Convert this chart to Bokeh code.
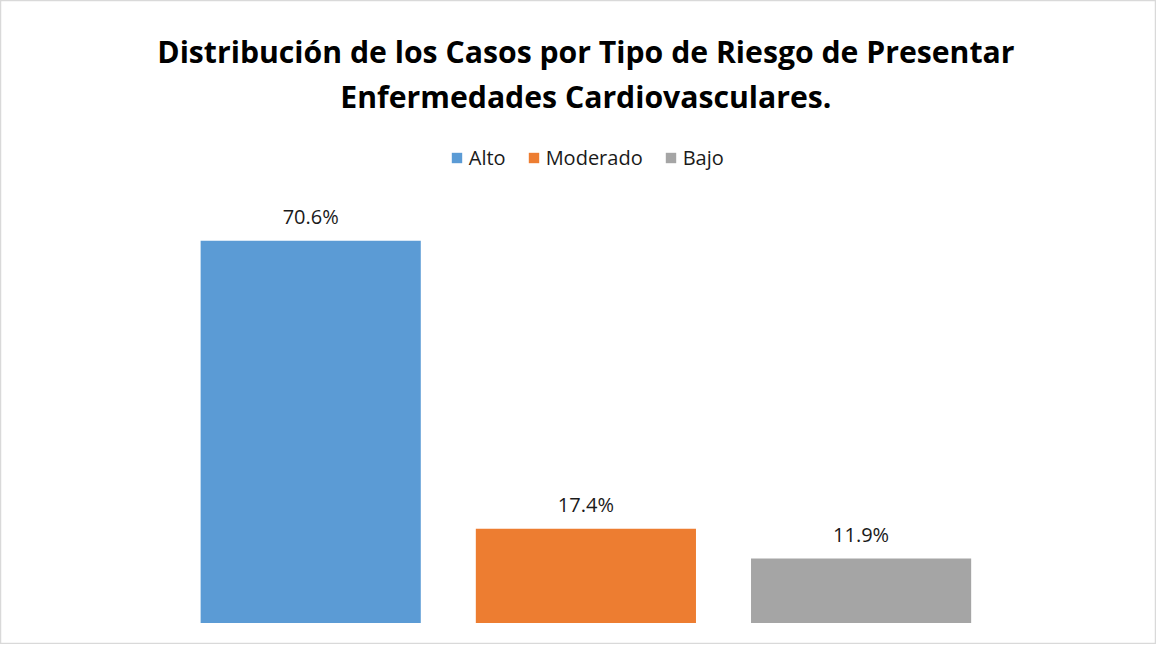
from bokeh.plotting import figure
from bokeh.models import Range1d, ColumnDataSource, Legend, LegendItem, Label
from bokeh.core.properties import value
from bokeh.embed import file_html
from bokeh.resources import INLINE

# ---- data ----
categories = ["Alto", "Moderado", "Bajo"]
percentages = [70.6, 17.4, 11.9]
colors = ["#5B9BD5", "#ED7D31", "#A5A5A5"]
title_lines = ["Distribución de los Casos por Tipo de Riesgo de Presentar",
               "Enfermedades Cardiovasculares."]

W, H = 1156, 644
SX, SY = W / 1172, H / 660
XS = 279.0 * SX   # px per category
YS = 5.55 * SY    # px per percent
x0 = -314.5 / 279.0
y0 = -(H - 638 * SY) / YS

def fs(v):
    return f"{v * SY:.1f}px"

p = figure(width=W, height=H, output_backend="svg", toolbar_location=None,
           x_range=Range1d(x0, x0 + W / XS), y_range=Range1d(y0, y0 + H / YS),
           min_border=0, min_border_left=0, min_border_right=0,
           min_border_top=0, min_border_bottom=0)
p.axis.visible = False
p.grid.visible = False
p.outline_line_color = "#D9D9D9"
p.outline_line_width = 1.5
p.background_fill_color = "white"
p.border_fill_color = "white"

xs = list(range(len(categories)))
src = ColumnDataSource(dict(x=xs, top=percentages,
                            label=[f"{v:.1f}%" for v in percentages]))

renderers = []
for i, c in enumerate(categories):
    s = ColumnDataSource(dict(x=[xs[i]], top=[percentages[i]]))
    r = p.vbar(x="x", top="top", bottom=0, width=0.8, source=s,
               fill_color=colors[i], line_color=None)
    renderers.append(r)

p.text(x="x", y="top", text="label", source=src, text_align="center",
       text_baseline="middle", y_offset=-25 * SY, text_font=value("Open Sans"),
       text_font_size=fs(20.5), text_color="#1a1a1a")

def dy(img_y):
    return y0 + (H - img_y * SY) / YS

def dx(img_x):
    return x0 + img_x * SX / XS

for line, iy in zip(title_lines, [52, 98]):
    p.add_layout(Label(x=dx(593.5), y=dy(iy), text=line, text_align="center",
                       text_baseline="middle", text_font="Open Sans",
                       text_font_style="bold", text_font_size=fs(31),
                       text_color="#000000"))

leg_w = 284 * SX
leg_h = 26 * SY
legend = Legend(items=[LegendItem(label=c, renderers=[r]) for c, r in zip(categories, renderers)],
                orientation="horizontal",
                location=(598 * SX - leg_w / 2, H - 162 * SY - leg_h / 2),
                border_line_color=None, background_fill_alpha=0,
                label_text_font="Open Sans", label_text_font_size=fs(20.5),
                label_text_color="#1a1a1a", label_height=int(leg_h),
                glyph_width=int(14 * SX), glyph_height=int(14 * SY),
                spacing=int(22 * SX), padding=0, margin=0, label_standoff=int(7 * SX))
p.add_layout(legend, "center")

open("out.html", "w").write(file_html(p, INLINE))
